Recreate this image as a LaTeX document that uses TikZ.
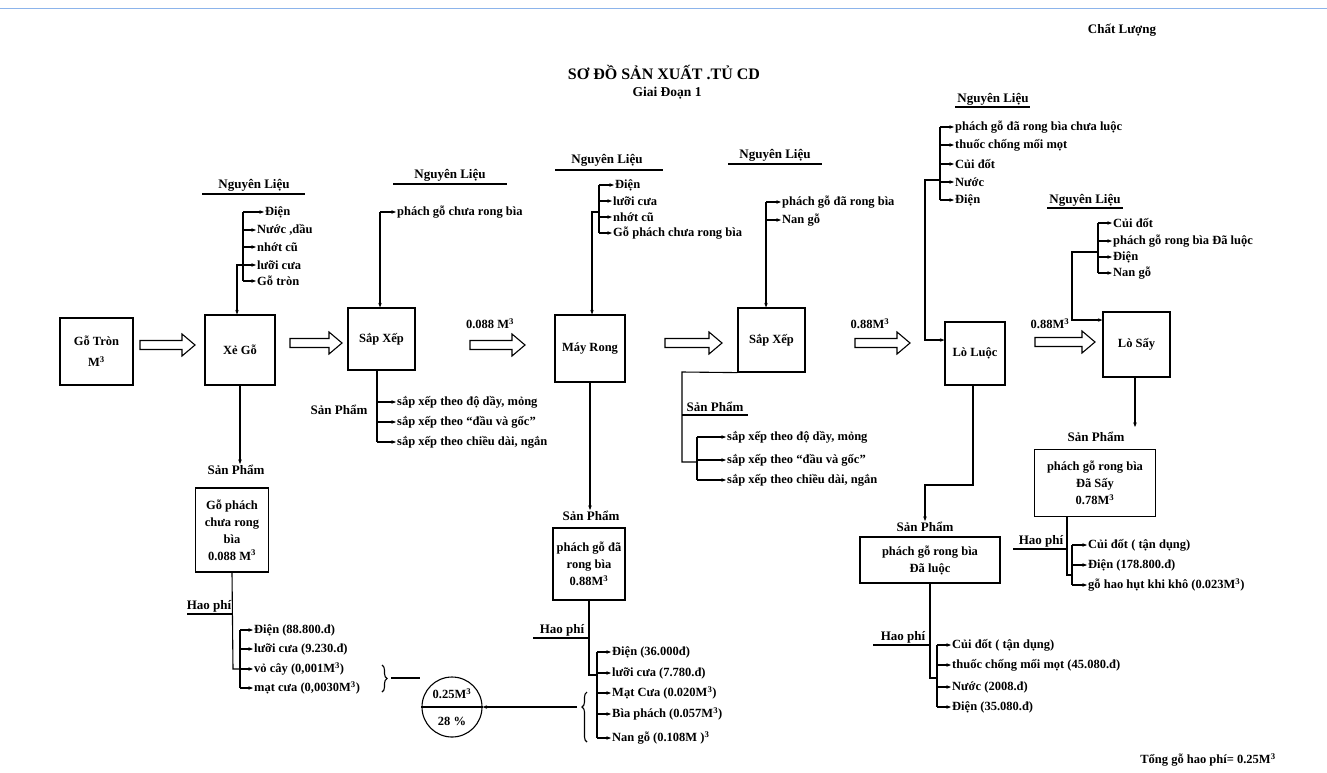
\documentclass[tikz,border=0pt]{standalone}
\usepackage{fontspec}
\setmainfont{Liberation Serif}
\usetikzlibrary{arrows.meta,decorations.pathreplacing,calc}
\newcommand\li[5]{\node[itm] (#1) at (#3,#4) {#5}; \draw[tip] (#2,#4) -- (#1.west);}
\newcommand\mcube{M\textsuperscript{3}}
\newcommand\harr[3]{\draw[line width=1.1pt,line join=miter] (#1,#3-4.5) -- (#2-13,#3-4.5) -- (#2-13,#3-11) -- (#2,#3) -- (#2-13,#3+11) -- (#2-13,#3+4.5) -- (#1,#3+4.5) -- cycle;}
\begin{document}
\begin{tikzpicture}[x=1pt,y=-1pt,
 every node/.style={font=\fontsize{12.5}{14}\selectfont\bfseries},
 box/.style={draw,line width=1.2pt,align=center,inner sep=2pt,font=\fontsize{12.5}{17}\selectfont\bfseries},
 itm/.style={anchor=west,inner sep=1pt},
 ln/.style={line width=1.1pt},
 tip/.style={ln,-{Stealth[length=4.5pt,width=3.5pt]}},
 hd/.style={inner sep=1pt,font=\fontsize{13}{15}\selectfont\bfseries},
]
\useasboundingbox (0,0) rectangle (1327,772);
\draw[color={rgb,255:red,140;green,180;blue,235},line width=0.8pt] (0,8) -- (1327,8);

% titles
\node[font=\fontsize{13}{15}\selectfont\bfseries] (kl) at (1122,30) {Chất Lượng};
\node[font=\fontsize{16}{18}\selectfont\bfseries] (title) at (664,72) {SƠ ĐỒ SẢN XUẤT .TỦ CD};
\node[font=\fontsize{13.5}{15}\selectfont\bfseries] (gd) at (667,93) {Giai Đoạn 1};
\node (tong) at (1208,760) {Tổng gỗ hao phí= 0.25\mcube};

% main boxes
\node[box,minimum width=73pt,minimum height=67pt] (gt) at (96.5,351.5) {Gỗ Tròn\\[4pt]\mcube};
\node[box,minimum width=70pt,minimum height=70pt] (xg) at (240,350) {Xẻ Gỗ};
\node[box,minimum width=67pt,minimum height=62pt] (sx1) at (381.5,339) {Sắp Xếp};
\node[box,minimum width=70pt,minimum height=67pt] (mr) at (590,348.5) {Máy Rong};
\node[box,minimum width=67pt,minimum height=64pt] (sx2) at (771.5,340) {Sắp Xếp};
\node[box,minimum width=60pt,minimum height=63pt] (ll) at (975,353.5) {Lò Luộc};
\node[box,minimum width=67pt,minimum height=65pt] (ls) at (1136.5,344.5) {Lò Sấy};

% hollow arrows
\harr{140}{195}{345}
\harr{290}{342}{343}
\harr{470}{525}{345}
\harr{665}{722}{343}
\harr{855}{910}{343}
\harr{1035}{1095}{342}
\node (v3) at (490,324) {0.088 \mcube};
\node (v5) at (870,324) {0.88\mcube};
\node (v6) at (1050,324) {0.88\mcube};

% Nguyen lieu 1 (Xe Go)
\node[hd] (nl1) at (254,185) {Nguyên Liệu};
\draw[ln] (202,194) -- (305,194);
\draw[ln] (243,212) -- (243,281);
\li{n11}{243}{264}{212}{Điện}
\li{n12}{243}{256}{230}{Nước ,dầu}
\li{n13}{243}{256}{247}{nhớt cũ}
\li{n14}{243}{256}{265}{lưỡi cưa}
\li{n15}{243}{256}{281}{Gỗ tròn}
\coordinate (c1) at (237,265);
\draw[tip] (243,265) -- (c1) -- (c1 |- xg.north);

% Nguyen lieu 2 (Sap Xep 1)
\node[hd] (nl2) at (450,175) {Nguyên Liệu};
\draw[ln] (393,184) -- (507,184);
\li{n21}{380}{396}{212}{phách gỗ chưa rong bìa}
\coordinate (c2) at (380,212);
\draw[tip] (c2) -- (c2 |- sx1.north);

% Nguyen lieu 3 (May Rong)
\node[hd] (nl3) at (607,160) {Nguyên Liệu};
\draw[ln] (555,170) -- (663,170);
\draw[ln] (599,185) -- (599,233);
\li{n31}{599}{614}{185}{Điện}
\li{n32}{599}{612}{201}{lưỡi cưa}
\li{n33}{599}{612}{217}{nhớt cũ}
\li{n34}{599}{612}{233}{Gỗ phách chưa rong bìa}
\coordinate (c3) at (592,212);
\draw[tip] (599,212) -- (c3) -- (c3 |- mr.north);

% Nguyen lieu 4 (Sap Xep 2)
\node[hd] (nl4) at (775,155) {Nguyên Liệu};
\draw[ln] (728,164) -- (822,164);
\li{n41}{766}{781}{202}{phách gỗ đã rong bìa}
\li{n42}{766}{781}{220}{Nan gỗ}
\coordinate (c4) at (766,202);
\draw[tip] (c4) -- (c4 |- sx2.north);

% Nguyen lieu 5 (Lo Luoc)
\node[hd] (nl5) at (993,99) {Nguyên Liệu};
\draw[ln] (955,107) -- (1030,107);
\draw[ln] (940,127) -- (940,200);
\li{n51}{940}{954}{127}{phách gỗ đã rong bìa chưa luộc}
\li{n52}{940}{954}{145}{thuốc chống mối mọt}
\li{n53}{940}{954}{164}{Củi đốt}
\li{n54}{940}{954}{182}{Nước}
\li{n55}{940}{954}{200}{Điện}
\coordinate (c5) at (925,180);
\draw[tip] (940,180) -- (c5) -- (925,340) -- (ll.west |- 0,340);

% Nguyen lieu 6 (Lo Say)
\node[hd] (nl6) at (1085,200) {Nguyên Liệu};
\draw[ln] (1047,208) -- (1123,208);
\draw[ln] (1098,223) -- (1098,273);
\li{n61}{1098}{1112}{223}{Củi đốt}
\li{n62}{1098}{1112}{241}{phách gỗ rong bìa Đã luộc}
\li{n63}{1098}{1112}{257}{Điện}
\li{n64}{1098}{1112}{273}{Nan gỗ}
\coordinate (c6) at (1072,252);
\draw[tip] (1098,252) -- (c6) -- (1072,320) -- (ls.west |- 0,320);

% San pham Xe Go
\node[hd] (sp1) at (236,470) {Sản Phẩm};
\draw[tip] (xg.south) -- (xg.south |- sp1.north);
\node[box,minimum width=73pt,minimum height=84pt] (p1) at (232,530) {Gỗ phách\\chưa rong\\bìa\\0.088 \mcube};
\node[hd] (hp1) at (209,606) {Hao phí};
\draw[ln] (187,614) -- (233,614);
\draw[ln] (p1.south) -- (233,669) -- (240,669);
\draw[ln] (240,630) -- (240,688);
\li{h11}{240}{253}{630}{Điện (88.800.đ)}
\li{h12}{240}{253}{649}{lưỡi cưa (9.230.đ)}
\li{h13}{240}{253}{669}{vỏ cây (0,001\mcube)}
\li{h14}{240}{253}{688}{mạt cưa (0,0030\mcube)}
\draw[ln,decorate,decoration={brace,amplitude=5pt}] (382,665) -- (382,692);
\coordinate (e1) at (420,678);
\draw[ln] (391,678) -- (e1);

% circle
\node[circle,draw,line width=1.1pt,minimum size=60pt] (circ) at (452,707) {};
\draw[ln] (circ.west) -- (circ.east);
\node (cv1) at (452,694) {0.25\mcube};
\node (cv2) at (452,721) {28 \%};

% San pham Sap Xep 1
\coordinate (k1) at (377,0);
\draw[ln] (k1 |- sx1.south) -- (377,442);
\node[hd] (sp2) at (339,410) {Sản Phẩm};
\li{s11}{377}{396}{402}{sắp xếp theo độ dầy, mỏng}
\li{s12}{377}{396}{422}{sắp xếp theo “đầu và gốc”}
\li{s13}{377}{396}{442}{sắp xếp theo chiều dài, ngắn}

% San pham May Rong
\node[hd] (sp3) at (591,516) {Sản Phẩm};
\draw[tip] (mr.south) -- (mr.south |- sp3.north);
\node[box,minimum width=72pt,minimum height=72pt] (p2) at (589,564) {phách gỗ đã\\rong bìa\\0.88\mcube};
\node[hd] (hp2) at (562,630) {Hao phí};
\draw[ln] (533,638) -- (589,638);
\draw[ln] (p2.south) -- (589,675) -- (597,675);
\draw[ln] (597,652) -- (597,738);
\li{h21}{597}{611}{652}{Điện (36.000đ)}
\li{h22}{597}{611}{673}{lưỡi cưa (7.780.đ)}
\li{h23}{597}{611}{693}{Mạt Cưa (0.020\mcube)}
\li{h24}{597}{611}{714}{Bìa phách (0.057\mcube)}
\li{h25}{597}{611}{738}{Nan gỗ (0.108M )\textsuperscript{3}}
\draw[ln,decorate,decoration={brace,amplitude=5pt,aspect=0.7}] (587,742) -- (587,692);
\draw[tip] (577,707) -- (circ.east);

% San pham Sap Xep 2
\draw[ln] (sx2.south west) -- (682,372) -- (682,462) -- (697,462);
\node[hd] (sp4) at (715,407) {Sản Phẩm};
\draw[ln] (682,415) -- (748,415);
\draw[ln] (697,437) -- (697,480);
\li{s21}{697}{726}{437}{sắp xếp theo độ dầy, mỏng}
\li{s22}{697}{726}{460}{sắp xếp theo “đầu và gốc”}
\li{s23}{697}{726}{480}{sắp xếp theo chiều dài, ngắn}

% San pham Lo Luoc
\node[hd] (sp5) at (925,527) {Sản Phẩm};
\coordinate (k5) at (973,0);
\draw[tip] (k5 |- ll.south) -- (973,485) -- (925,485) -- (sp5.north);
\node[box,minimum width=140pt,minimum height=46pt] (p3) at (930,560) {phách gỗ rong bìa\\Đã luộc};
\node[hd] (hp3) at (903,637) {Hao phí};
\draw[ln] (873,645) -- (930,645);
\draw[ln] (p3.south) -- (930,678) -- (937,678);
\draw[ln] (937,645) -- (937,707);
\li{h31}{937}{951}{645}{Củi đốt ( tận dụng)}
\li{h32}{937}{951}{665}{thuốc chống mối mọt (45.080.đ)}
\li{h33}{937}{951}{687}{Nước (2008.đ)}
\li{h34}{937}{951}{707}{Điện (35.080.đ)}

% San pham Lo Say
\node[hd] (sp6) at (1096,437) {Sản Phẩm};
\coordinate (k6) at (1135,427);
\draw[tip] (ls.south -| k6) -- (k6);
\node[box,minimum width=121pt,minimum height=67pt] (p4) at (1095,483) {phách gỗ rong bìa\\Đã Sấy\\0.78\mcube};
\node[hd] (hp4) at (1041,541) {Hao phí};
\draw[ln] (1013,549) -- (1067,549);
\coordinate (k7) at (1067,0);
\draw[ln] (k7 |- p4.south) -- (1067,575) -- (1072,575);
\draw[ln] (1072,545) -- (1072,585);
\li{h41}{1072}{1087}{545}{Củi đốt ( tận dụng)}
\li{h42}{1072}{1087}{565}{Điện (178.800.đ)}
\li{h43}{1072}{1087}{585}{gỗ hao hụt khi khô (0.023\mcube)}
\end{tikzpicture}
\end{document}
